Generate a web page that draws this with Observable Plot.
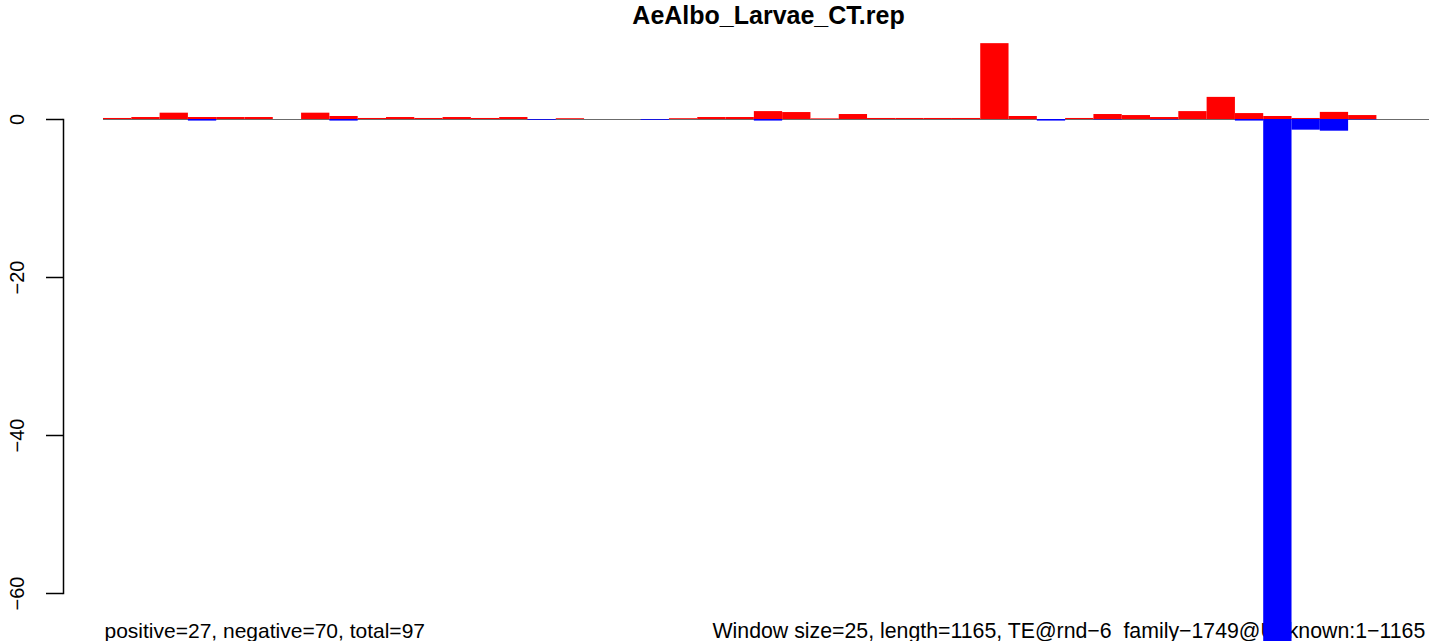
<!DOCTYPE html>
<html>
<head>
<meta charset="utf-8">
<script src="https://cdn.jsdelivr.net/npm/d3@7"></script>
<script src="https://cdn.jsdelivr.net/npm/@observablehq/plot@0.6"></script>
<style>
  html, body { margin: 0; padding: 0; background: #fff; overflow: hidden; }
  #chart svg { display: block; }
</style>
</head>
<body>
<div id="chart"></div>
<script>
// Window values (per 25-bp window)
const windowIndex = d3.range(47);
const positive = [0.13,0.25,0.8,0.25,0.25,0.25,0,0.8,0.38,0.13,0.25,0.13,0.25,0.13,0.25,0,0.1,0,0,0,0.1,0.25,0.25,1.0,0.88,0.08,0.63,0.13,0.13,0.13,0.13,9.6,0.38,0,0.13,0.63,0.5,0.25,1.0,2.8,0.75,0.38,0.13,0.9,0.5,0,0];
const negative = [0,0,0,-0.2,0,0,0,0,-0.2,0,0,0,0,0,0,-0.1,0,0,0,-0.1,0,0,0,-0.2,0,0,0,0,0,0,0,0,0,-0.2,0,-0.05,0,-0.05,0,0,-0.2,-66.5,-1.35,-1.48,-0.05,0,0];
const yTicks = [-60, -40, -20, 0];
const titleText = "AeAlbo_Larvae_CT.rep";
const leftNote = "positive=27, negative=70, total=97";
const rightNote = "Window size=25, length=1165, TE@rnd\u22126_family\u22121749@Unknown:1\u22121165";

const posData = windowIndex.map(i => ({i, v: positive[i]})).filter(d => d.v !== 0);
const negData = windowIndex.map(i => ({i, v: negative[i]})).filter(d => d.v !== 0);
const fmt = d => String(d).replace("-", "\u2212");

const chart = Plot.plot({
  width: 1429,
  height: 641,
  marginLeft: 63,
  marginRight: 0,
  marginTop: 119,
  marginBottom: 48,
  style: {fontFamily: "'Liberation Sans', Arial, Helvetica, sans-serif", background: "#fff", color: "#000"},
  x: {type: "linear", domain: [0, windowIndex.length], range: [103, 1433], axis: null},
  y: {domain: [-60, 0], axis: null},
  marks: [
    Plot.ruleY([0], {x1: 0, x2: windowIndex.length, stroke: "#6b6b6b", strokeWidth: 1.2}),
    Plot.text([leftNote], {frameAnchor: "bottom-left", textAnchor: "start", lineAnchor: "bottom", dx: 41, dy: 44, fontSize: 21, fill: "#000"}),
    Plot.text([rightNote], {frameAnchor: "bottom-left", textAnchor: "start", lineAnchor: "bottom", dx: 649, dy: 44, fontSize: 21.3, fill: "#000"}),
    Plot.rect(posData, {x1: d => d.i, x2: d => d.i + 1, y1: 0, y2: d => d.v, fill: "#ff0000"}),
    Plot.rect(negData, {x1: d => d.i, x2: d => d.i + 1, y1: 0, y2: d => d.v, fill: "#0000ff"}),
    Plot.text([titleText], {x: windowIndex.length / 2, frameAnchor: "top", textAnchor: "middle", lineAnchor: "bottom", dy: -96, fontSize: 25, fontWeight: "bold", fill: "#000"}),
    Plot.axisY(yTicks, {tickSize: 17, tickFormat: () => "", label: null, strokeWidth: 1.5, stroke: "#000"}),
    Plot.text(yTicks, {y: d => d, text: fmt, frameAnchor: "left", textAnchor: "middle", rotate: -90, dx: -40, lineAnchor: "bottom", fontSize: 20, fill: "#000"}),
    Plot.frame({anchor: "left", strokeWidth: 1.5, stroke: "#000"})
  ]
});
document.getElementById("chart").appendChild(chart);
</script>
</body>
</html>
